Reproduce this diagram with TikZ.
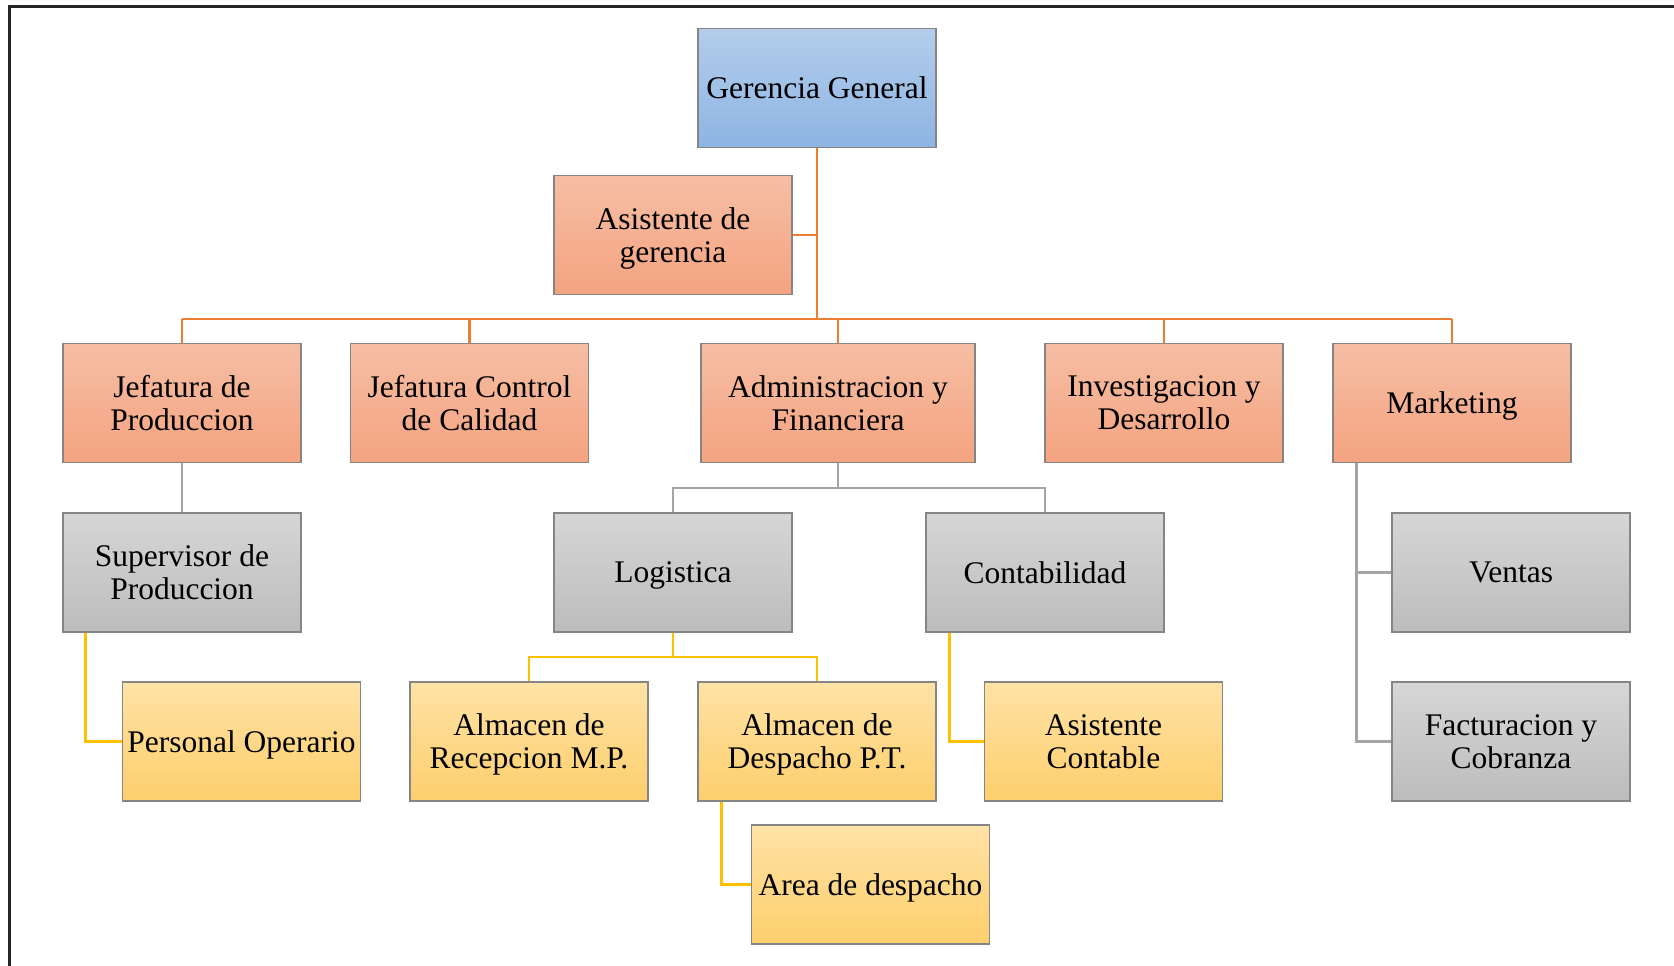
\documentclass[tikz,border=0pt]{standalone}
\usepackage{fontspec}
\setmainfont{Liberation Serif}
\usetikzlibrary{calc}
\definecolor{blueT}{HTML}{B3CDEB}
\definecolor{blueB}{HTML}{8EB4E3}
\definecolor{oraT}{HTML}{F6BEA4}
\definecolor{oraB}{HTML}{F4A380}
\definecolor{graT}{HTML}{D6D6D6}
\definecolor{graB}{HTML}{BCBCBC}
\definecolor{yelT}{HTML}{FFE2A6}
\definecolor{yelB}{HTML}{FDCF6C}
\definecolor{oline}{HTML}{ED7D31}
\definecolor{gline}{HTML}{A5A5A5}
\definecolor{yline}{HTML}{FFC000}
\definecolor{bord}{HTML}{858585}
\tikzset{
  box/.style={draw=bord, line width=1.2pt, minimum width=238pt, minimum height=119pt,
    align=center, inner sep=2pt, text depth=0pt, font=\fontsize{31.5}{33}\selectfont},
  bluebox/.style={box, top color=blueT, bottom color=blueB},
  orabox/.style={box, top color=oraT, bottom color=oraB},
  grabox/.style={box, top color=graT, bottom color=graB},
  yelbox/.style={box, top color=yelT, bottom color=yelB},
  oconn/.style={draw=oline, line width=2.6pt},
  gconn/.style={draw=gline, line width=2.2pt},
  yconn/.style={draw=yline, line width=2.2pt},
}
\begin{document}
\begin{tikzpicture}[x=1pt,y=-1pt]
\useasboundingbox (0,0) rectangle (1674,966);
\draw[line width=2.2pt, black!85] (9.5,966) -- (9.5,6.5) -- (1674,6.5);
% nodes
\node[bluebox] (gg) at (817,88) {Gerencia General};
\node[orabox] (ag) at (673,235) {Asistente de\\gerencia};
\node[orabox] (jp) at (182,403) {Jefatura de\\Produccion};
\node[orabox] (jc) at (469.5,403) {Jefatura Control\\de Calidad};
\node[orabox, minimum width=274pt] (af) at (838,403) {Administracion y\\Financiera};
\node[orabox] (id) at (1164,403) {Investigacion y\\Desarrollo};
\node[orabox] (mk) at (1452,403) {Marketing};
\node[grabox] (sp) at (182,572.5) {Supervisor de\\Produccion};
\node[grabox] (lg) at (673,572.5) {Logistica};
\node[grabox] (ct) at (1045,572.5) {Contabilidad};
\node[grabox] (vt) at (1511,572.5) {Ventas};
\node[yelbox] (po) at (241.5,741.5) {Personal Operario};
\node[yelbox] (mp) at (529,741.5) {Almacen de\\Recepcion M.P.};
\node[yelbox] (pt) at (817,741.5) {Almacen de\\Despacho P.T.};
\node[yelbox] (ac) at (1103.5,741.5) {Asistente\\Contable};
\node[grabox] (fc) at (1511,741.5) {Facturacion y\\Cobranza};
\node[yelbox] (ad) at (870.5,884.5) {Area de despacho};
% orange connectors
\coordinate (bus) at (817,319);
\draw[oconn] (gg.south) -- (bus);
\draw[oconn] (ag.east) -- (ag.east -| gg.south);
\draw[oconn] (jp.north |- bus) -- (mk.north |- bus);
\foreach \n in {jp,jc,af,id,mk} \draw[oconn] (\n.north) -- (\n.north |- bus);
% gray connectors
\draw[gconn] (jp.south) -- (sp.north);
\coordinate (gb) at (838,488);
\draw[gconn] (af.south) -- (gb);
\draw[gconn] (lg.north) |- (gb) -| (ct.north);
\coordinate (mkb) at ($(mk.south west)+(24,0)$);
\draw[gconn] (mkb) |- (fc.west);
\draw[gconn] (mkb |- vt.west) -- (vt.west);
% yellow connectors
\draw[yconn] ($(sp.south west)+(23,0)$) |- (po.west);
\coordinate (yb) at (673,657);
\draw[yconn] (lg.south) -- (yb);
\draw[yconn] (mp.north) |- (yb) -| (pt.north);
\draw[yconn] ($(ct.south west)+(24,0)$) |- (ac.west);
\draw[yconn] ($(pt.south west)+(24,0)$) |- (ad.west);
\end{tikzpicture}
\end{document}
